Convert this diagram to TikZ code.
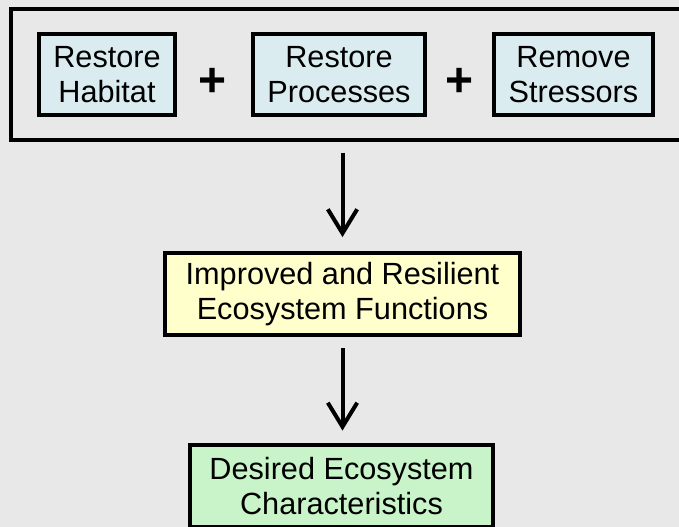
\documentclass[tikz,border=0pt]{standalone}
\usepackage{fontspec}
\setmainfont{Liberation Sans}
\usetikzlibrary{arrows.meta,positioning}

\definecolor{bgGray}{HTML}{E8E8E8}
\definecolor{actionBlue}{HTML}{DAECEF}
\definecolor{funcYellow}{HTML}{FFFFCC}
\definecolor{goalGreen}{HTML}{C9F3C9}

\begin{document}
\begin{tikzpicture}[x=0.75pt,y=-0.75pt,
	boxtext/.style={font=\fontsize{23}{26}\selectfont, align=center, inner sep=0pt},
	action/.style={boxtext, draw, line width=2.6pt, fill=actionBlue, minimum height=61pt},
	result/.style={boxtext, draw, line width=2.6pt, minimum height=61.75pt},
	plus/.style={font=\fontsize{36}{36}\selectfont\bfseries, inner sep=0pt},
	flow/.style={line width=3pt, -{Straight Barb[length=18pt,width=22pt,line width=3pt]}}]
	% Canvas
	\clip (0,0) rectangle (679,527);
	\fill[bgGray] (0,0) rectangle (679,527);
	
	% Outer frame round the three actions
	\node[draw, line width=2.6pt, minimum width=515.5pt, minimum height=98.5pt] (restore) at (354.5,74.5) {};
	
	% Actions
	\node[action, minimum width=102.25pt] (habitat) at (107,74.5) {Restore\\Habitat};
	\node[action, minimum width=129.25pt] (processes) at (339,74.5) {Restore\\Processes};
	\node[action, minimum width=119.5pt] (stressors) at (573.5,74.5) {Remove\\Stressors};
	
	% Plus signs
	\node[plus] (plusA) at (213,82) {+};
	\node[plus] (plusB) at (460,82) {+};
	
	% Functions and characteristics
	\node[result, fill=funcYellow, minimum width=266.5pt] (func) at (342.5,294) {Improved and Resilient\\Ecosystem Functions};
	\node[result, fill=goalGreen, minimum width=227.5pt] (goal) at (341.5,486) {Desired Ecosystem\\Characteristics};
	
	% Arrows
	\draw[flow, shorten <=8pt, shorten >=10.5pt] (func.north |- restore.south) -- (func.north);
	\draw[flow, shorten <=8.6pt, shorten >=9.4pt] (func.south) -- (func.south |- goal.north);
\end{tikzpicture}
\end{document}
